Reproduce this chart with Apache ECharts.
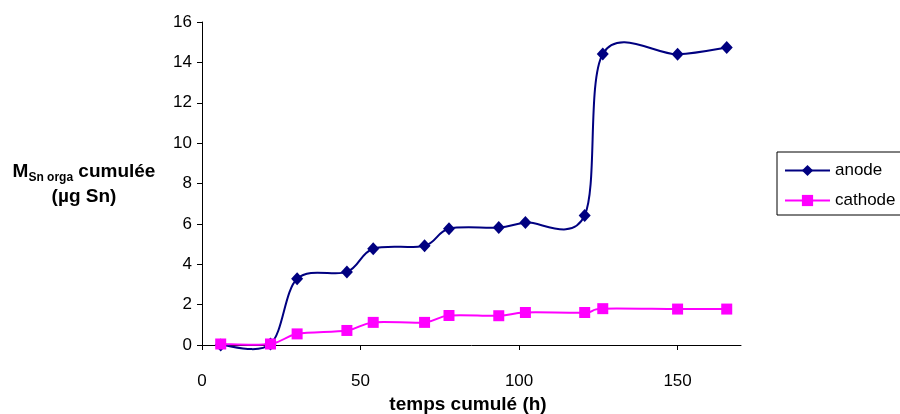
<!DOCTYPE html>
<html>
<head>
<meta charset="utf-8">
<script src="https://cdn.jsdelivr.net/npm/echarts@6/dist/echarts.min.js"></script>
<style>
html,body{margin:0;padding:0;background:#fff;}
#chart{width:900px;height:414px;}
</style>
</head>
<body>
<div id="chart"></div>
<script>
// Data
const times = [5.9, 21.6, 30, 45.7, 54, 70.2, 77.9, 93.6, 102, 120.7, 126.4, 150, 165.5];
const anode = [0, 0.05, 3.28, 3.62, 4.77, 4.92, 5.76, 5.82, 6.07, 6.42, 14.42, 14.4, 14.74];
const cathode = [0.05, 0.05, 0.55, 0.72, 1.12, 1.12, 1.46, 1.45, 1.61, 1.61, 1.8, 1.78, 1.78];
const xTicks = [0, 50, 100, 150];
const seriesNames = ['anode', 'cathode'];
const colors = ['#000080', '#FF00FF'];

const FONT = '"Liberation Sans", Arial, sans-serif';
const chart = echarts.init(document.getElementById('chart'), null, {renderer: 'canvas'});

const pairs = (xs, ys) => xs.map((x, i) => [x, ys[i]]);

// Smoothed (Catmull-Rom style, like a spreadsheet "smoothed line") curve,
// drawn segment by segment through the chart's own coordinate system.
function curveSeries(name, ys, color, z) {
  return {
    name: name, type: 'custom', z: z, silent: true,
    data: pairs(times, ys),
    encode: {x: 0, y: 1},
    renderItem: function (params, api) {
      const i = params.dataIndex;
      const n = times.length;
      if (i >= n - 1) return null;
      const P = k => api.coord([times[Math.max(0, Math.min(n - 1, k))], ys[Math.max(0, Math.min(n - 1, k))]]);
      const p0 = P(i - 1), p1 = P(i), p2 = P(i + 1), p3 = P(i + 2);
      const t = 1 / 6;
      return {
        type: 'bezierCurve',
        shape: {
          x1: p1[0], y1: p1[1], x2: p2[0], y2: p2[1],
          cpx1: p1[0] + (p2[0] - p0[0]) * t, cpy1: p1[1] + (p2[1] - p0[1]) * t,
          cpx2: p2[0] - (p3[0] - p1[0]) * t, cpy2: p2[1] - (p3[1] - p1[1]) * t
        },
        style: {stroke: color, lineWidth: 2, fill: null}
      };
    }
  };
}

chart.setOption({
  animation: false,
  backgroundColor: '#fff',
  grid: {left: 202, right: 159, top: 22, bottom: 69, containLabel: false},
  xAxis: {
    type: 'value', min: 0, max: 170, interval: 50,
    axisLine: {show: true, onZero: false, lineStyle: {color: '#000', width: 1}},
    axisTick: {show: true, length: 5, customValues: xTicks, lineStyle: {color: '#000'}},
    axisLabel: {customValues: xTicks, margin: 28, color: '#000', fontFamily: FONT, fontSize: 17},
    splitLine: {show: false}
  },
  yAxis: {
    type: 'value', min: 0, max: 16, interval: 2,
    axisLine: {show: true, lineStyle: {color: '#000', width: 1}},
    axisTick: {show: true, length: 5, lineStyle: {color: '#000'}},
    axisLabel: {margin: 10, color: '#000', fontFamily: FONT, fontSize: 17},
    splitLine: {show: false}
  },
  legend: {
    orient: 'vertical', left: 777, top: 152,
    padding: [10, 40, 6, 7],
    borderColor: '#000', borderWidth: 1, borderRadius: 0,
    itemWidth: 45, itemHeight: 14, itemGap: 13,
    textStyle: {color: '#000', fontFamily: FONT, fontSize: 17},
    data: seriesNames.map((nm, k) => ({
      name: nm,
      lineStyle: {color: colors[k], width: 2, opacity: 1}
    }))
  },
  graphic: [
    {
      type: 'text', x: 468, y: 405,
      style: {text: 'temps cumulé (h)', font: 'bold 19px ' + FONT, fill: '#000', align: 'center', verticalAlign: 'middle'}
    },
    {
      type: 'text', x: 84, y: 184,
      style: {
        text: '{m|M}{s|Sn orga}{m| cumulée}\n{m|(µg Sn)}',
        fill: '#000', align: 'center', verticalAlign: 'middle',
        rich: {
          m: {font: 'bold 19px ' + FONT, fill: '#000', lineHeight: 25, align: 'center'},
          s: {font: 'bold 12px ' + FONT, fill: '#000', verticalAlign: 'bottom', lineHeight: 25, padding: [8, 0, 0, 0]}
        }
      }
    }
  ],
  series: [
    curveSeries('anode-curve', anode, colors[0], 2),
    {
      name: seriesNames[0], type: 'line', smooth: false,
      data: pairs(times, anode),
      symbol: 'diamond', symbolSize: [12, 13],
      lineStyle: {color: colors[0], width: 2, opacity: 0},
      itemStyle: {color: colors[0]},
      z: 3
    },
    curveSeries('cathode-curve', cathode, colors[1], 4),
    {
      name: seriesNames[1], type: 'line', smooth: false,
      data: pairs(times, cathode),
      symbol: 'rect', symbolSize: 11,
      lineStyle: {color: colors[1], width: 2, opacity: 0},
      itemStyle: {color: colors[1]},
      z: 5
    }
  ]
});
</script>
</body>
</html>
